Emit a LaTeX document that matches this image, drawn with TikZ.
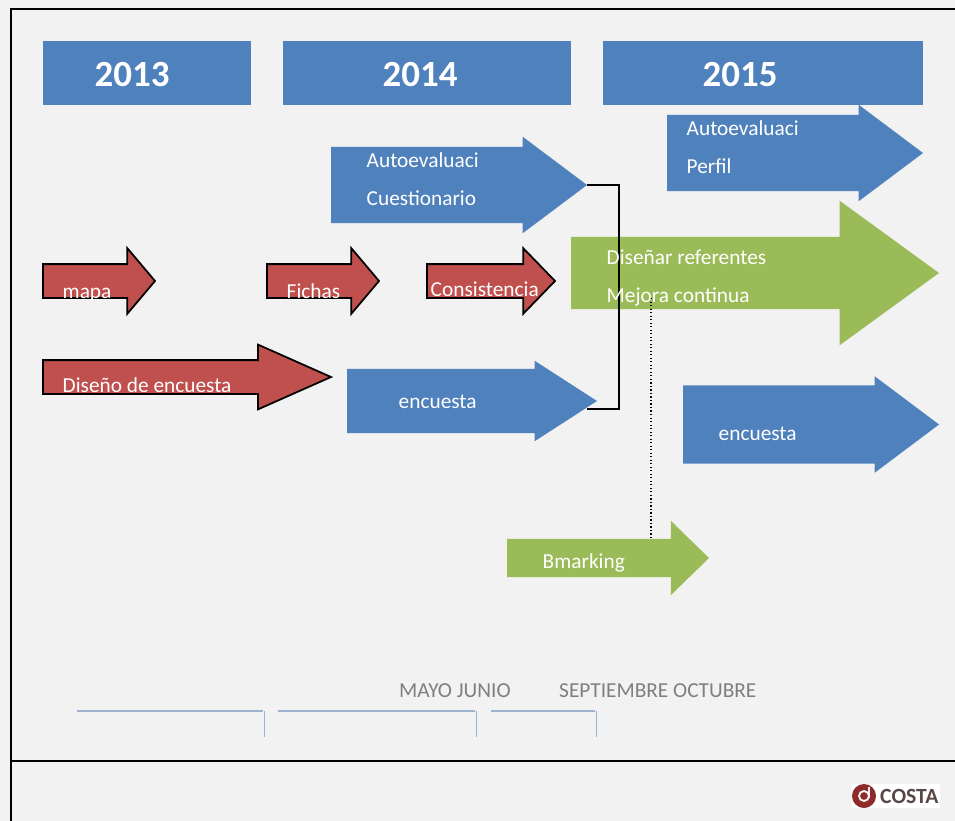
\documentclass[tikz,border=0pt]{standalone}
\usepackage{fontspec}
\setmainfont{Carlito}
\usetikzlibrary{shapes.arrows}
\definecolor{fondo}{HTML}{F2F2F2}
\definecolor{azul}{HTML}{4F81BD}
\definecolor{rojo}{HTML}{C0504D}
\definecolor{verde}{HTML}{9BBB59}
\definecolor{regla}{HTML}{9DB2CC}
\definecolor{gris}{HTML}{7F7F7F}
\definecolor{granate}{HTML}{8E2A2A}
\definecolor{pardo}{HTML}{5A4646}
\tikzset{
	yearbox/.style={fill=azul,inner sep=0pt,outer sep=0pt},
	yeartext/.style={anchor=base west,inner sep=0pt,text=white,font=\fontsize{31.5}{31.5}\selectfont\bfseries},
	arrowtext/.style={anchor=base west,inner sep=0pt,text=white,font=\fontsize{18.2}{18.2}\selectfont},
	monthtext/.style={anchor=base west,inner sep=0pt,text=gris,font=\fontsize{18.2}{18.2}\selectfont},
	blueflecha/.style={fill=azul},
	greenflecha/.style={fill=verde},
	redflecha/.style={fill=rojo,draw=black,line width=1.5pt,miter limit=10},
	marco/.style={line width=2pt,black},
	regleta/.style={line width=0.9pt,regla},
	tick/.style={line width=0.4pt,regla}
}
% style, name, tail x, mid y, length, total width, head extend, head length
\newcommand{\flecha}[8]{
	\pgfmathsetmacro{\tipangle}{2*atan(#6/2/#8)}
	\node[single arrow,#1,inner xsep=0pt,inner ysep={(#6-2*#7)/2*0.03cm},outer sep=0pt,anchor=tail,
		minimum height=#5*0.03cm,minimum width=#6*0.03cm,
		single arrow head extend=#7*0.03cm,single arrow tip angle=\tipangle] (#2) at (#3,#4) {};
}
\begin{document}
\begin{tikzpicture}[x=0.03cm,y=-0.03cm]
	\useasboundingbox (0,0) rectangle (955,821);
	\fill[fondo] (0,0) rectangle (955,821);
	% frame
	\draw[marco] (955,9) -- (11,9) -- (11,821);
	\draw[marco] (11,761) -- (955,761);
	% years
	\node[yearbox,minimum width=208*0.03cm,minimum height=64*0.03cm] (box13) at (147,73) {};
	\node[yearbox,minimum width=288*0.03cm,minimum height=64*0.03cm] (box14) at (427,73) {};
	\node[yearbox,minimum width=320*0.03cm,minimum height=64*0.03cm] (box15) at (763,73) {};
	\node[yeartext] (year13) at (94.5,86.5) {2013};
	\node[yeartext] (year14) at (382.5,86.5) {2014};
	\node[yeartext] (year15) at (702.5,86.5) {2015};
	% arrows
	\flecha{blueflecha}{auto15}{667}{153}{256}{96}{10}{64}
	\flecha{blueflecha}{auto14}{331}{185}{256}{96}{10}{64}
	\flecha{greenflecha}{disenar}{571}{273}{368}{144}{36}{99}
	\flecha{blueflecha}{enc14}{347}{401}{250}{80}{8}{62}
	\flecha{blueflecha}{enc15}{683}{424.5}{256}{96}{9}{64}
	\flecha{greenflecha}{bmark}{507}{558}{202}{74}{18}{38}
	\flecha{redflecha}{mapa}{43}{281}{112}{64}{16}{27}
	\flecha{redflecha}{fichas}{267}{281}{112}{64}{16}{27}
	\flecha{redflecha}{consist}{427}{281}{128}{64}{16}{31}
	\flecha{redflecha}{encdis}{43}{377}{288}{63}{15.5}{71}
	% connectors
	\coordinate (cierre) at (619,409);
	\coordinate (finenc) at (587,409);
	\draw[line width=1.3pt] (auto14.tip) -| (cierre) -- (finenc);
	\coordinate (dottop) at (651,298);
	\coordinate (dotend) at (651,540);
	\draw[line width=1pt,dotted] (dottop) -- (dotend);
	% labels
	\node[arrowtext] (t1) at (686.5,136) {Autoevaluaci};
	\node[arrowtext] (t2) at (686.5,174) {Perfil};
	\node[arrowtext] (t3) at (366.5,168) {Autoevaluaci};
	\node[arrowtext] (t4) at (366.5,206) {Cuestionario};
	\node[arrowtext] (t5) at (606.5,264) {Diseñar referentes};
	\node[arrowtext] (t6) at (606.5,302) {Mejora continua};
	\node[arrowtext] (t7) at (398.5,408) {encuesta};
	\node[arrowtext] (t8) at (718.5,440) {encuesta};
	\node[arrowtext] (t9) at (542.5,568) {Bmarking};
	\node[arrowtext] (t10) at (62.5,298) {mapa};
	\node[arrowtext] (t11) at (286.5,298) {Fichas};
	\node[arrowtext] (t12) at (430.5,296) {Consistencia};
	\node[arrowtext] (t13) at (62.5,392) {Diseño de encuesta};
	% months
	\node[monthtext] (mayo) at (399,697) {MAYO JUNIO};
	\node[monthtext] (sept) at (559,697) {SEPTIEMBRE OCTUBRE};
	\draw[regleta] (77,711) -- (263,711);
	\draw[regleta] (278,711) -- (475,711);
	\draw[regleta] (491,711) -- (595,711);
	\draw[tick] (264,711) -- (264,737);
	\draw[tick] (476,711) -- (476,737);
	\draw[tick] (596,711) -- (596,737);
	% logo
	\fill[white] (852,784) rectangle (940,808);
	\fill[granate] (864,796) circle (12);
	\draw[fondo,line width=1.6pt] (864,796) circle (5);
	\draw[fondo,line width=1.2pt] (869,787) -- (869,798);
	\node[anchor=base west,inner sep=0pt,text=pardo,font=\fontsize{18.5}{18.5}\selectfont\bfseries] (costa) at (880,803) {COSTA};
\end{tikzpicture}
\end{document}
